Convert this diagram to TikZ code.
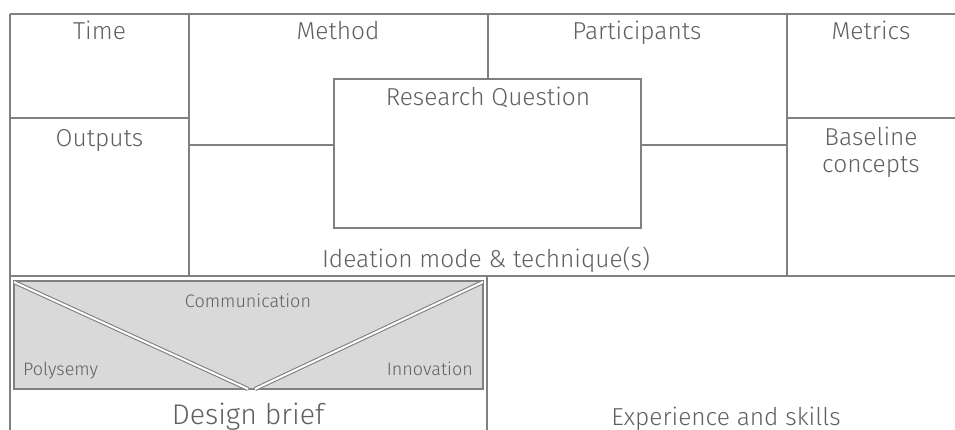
\documentclass[tikz,border=0pt]{standalone}
\usepackage{fontspec}
\setmainfont{Fira Sans Light}

\definecolor{rulegray}{HTML}{808080}
\definecolor{inkgray}{HTML}{606060}
\definecolor{panelgray}{HTML}{D9D9D9}

\tikzset{
  cell/.style={draw=rulegray, line width=2pt},
  label/.style={text=inkgray, inner sep=0pt, anchor=base, font=\fontsize{24.5}{27}\selectfont},
  smalllabel/.style={label, font=\fontsize{18}{20}\selectfont},
  biglabel/.style={label, font=\fontsize{28.5}{31}\selectfont},
  cut/.style={draw=rulegray, line width=1.1pt, double=white, double distance=2pt}
}

\begin{document}
\begin{tikzpicture}[x=1pt,y=-1pt]
  \useasboundingbox (0,0) rectangle (955,430);

  % canvas grid
  \foreach \a/\b in {{10,430}/{10,14}, {10,14}/{955,14}, {10,276}/{955,276},
                     {189,14}/{189,276}, {488,14}/{488,79}, {787,14}/{787,276},
                     {10,118}/{189,118}, {787,118}/{955,118},
                     {189,145}/{334,145}, {641,145}/{787,145}, {487,276}/{487,430}}
    \draw[cell] (\a) -- (\b);

  % research question box
  \draw[cell] (334,79) rectangle (641,228);

  % design brief panel
  \draw[draw=rulegray, line width=1.6pt, fill=panelgray] (14,281) rectangle (483,389);
  \draw[cut] (14,282) -- (248,389);
  \draw[cut] (483,282) -- (255,389);

  \node[label] (time) at (99.5,40) {Time};
  \node[label] (method) at (338,40) {Method};
  \node[label] (participants) at (637,40) {Participants};
  \node[label] (metrics) at (871,40) {Metrics};
  \node[label] (outputs) at (99.5,147) {Outputs};
  \node[label] (baseline) at (871,146) {Baseline};
  \node[label] (concepts) at (871,173) {concepts};
  \node[label] (question) at (488,106) {Research Question};
  \node[label] (ideation) at (486,267) {Ideation mode \& technique(s)};

  \node[smalllabel] (communication) at (248,307) {Communication};
  \node[smalllabel, anchor=base west] (polysemy) at (23,375) {Polysemy};
  \node[smalllabel, anchor=base east] (innovation) at (473,375) {Innovation};
  \node[biglabel] (brief) at (248,424) {Design brief};
  \node[label] (experience) at (726,425) {Experience and skills};
\end{tikzpicture}
\end{document}
